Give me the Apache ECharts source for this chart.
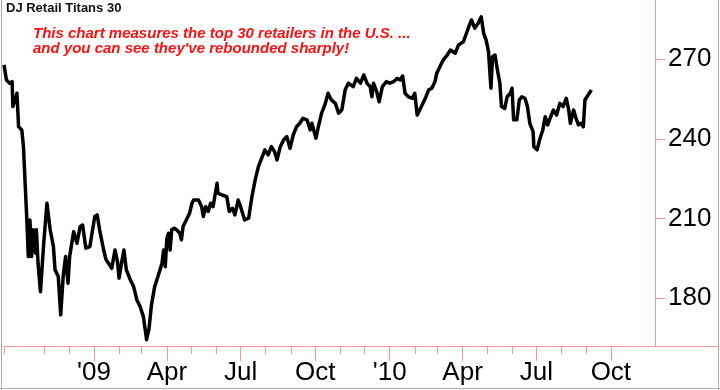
<!DOCTYPE html>
<html>
<head>
<meta charset="utf-8">
<script src="https://cdn.jsdelivr.net/npm/echarts@6/dist/echarts.min.js"></script>
<style>
html,body{margin:0;padding:0;background:#fff;}
#chart{width:720px;height:390px;}
</style>
</head>
<body>
<div id="chart"></div>
<script>
// ---- data ----
const startDate = '2008-09-12';
const endDate = '2011-02-09';
const yTicks = [180, 210, 240, 270];
const monthNames = ['Jan','Feb','Mar','Apr','May','Jun','Jul','Aug','Sep','Oct','Nov','Dec'];
const firstTickMonth = '2008-11-01';
const lastTickMonth = '2010-10-01';
const title = 'DJ Retail Titans 30';
const note = "This chart measures the top 30 retailers in the U.S. ...\nand you can see they've rebounded sharply!";

const dates = [
'2008-09-12','2008-09-15','2008-09-19','2008-09-22','2008-09-23','2008-09-28','2008-09-30','2008-10-04','2008-10-06','2008-10-10',
'2008-10-12','2008-10-14','2008-10-16','2008-10-18','2008-10-21','2008-10-22','2008-10-24','2008-10-27','2008-10-31','2008-11-04',
'2008-11-08','2008-11-12','2008-11-14','2008-11-18','2008-11-21','2008-11-24','2008-11-27','2008-11-30','2008-12-02','2008-12-07',
'2008-12-11','2008-12-15','2008-12-18','2008-12-22','2008-12-27','2009-01-02','2009-01-05','2009-01-08','2009-01-13','2009-01-16',
'2009-01-19','2009-01-23','2009-01-27','2009-01-30','2009-02-01','2009-02-04','2009-02-07','2009-02-10','2009-02-15','2009-02-19',
'2009-02-23','2009-02-27','2009-03-03','2009-03-07','2009-03-10','2009-03-13','2009-03-17','2009-03-21','2009-03-26','2009-03-28',
'2009-03-30','2009-04-01','2009-04-03','2009-04-05','2009-04-07','2009-04-10','2009-04-13','2009-04-17','2009-04-19','2009-04-21',
'2009-04-25','2009-04-29','2009-05-02','2009-05-04','2009-05-10','2009-05-14','2009-05-16','2009-05-19','2009-05-22','2009-05-25',
'2009-05-28','2009-06-02','2009-06-03','2009-06-08','2009-06-14','2009-06-17','2009-06-21','2009-06-24','2009-06-28','2009-07-01',
'2009-07-06','2009-07-11','2009-07-15','2009-07-19','2009-07-23','2009-07-31','2009-08-04','2009-08-08','2009-08-12','2009-08-15',
'2009-08-19','2009-08-23','2009-08-27','2009-08-31','2009-09-04','2009-09-08','2009-09-12','2009-09-16','2009-09-21','2009-09-25',
'2009-09-27','2009-10-02','2009-10-05','2009-10-09','2009-10-13','2009-10-17','2009-10-21','2009-10-26','2009-10-30','2009-11-03',
'2009-11-07','2009-11-11','2009-11-17','2009-11-21','2009-11-26','2009-11-30','2009-12-04','2009-12-08','2009-12-10','2009-12-12',
'2009-12-16','2009-12-19','2009-12-23','2009-12-28','2010-01-01','2010-01-06','2010-01-10','2010-01-14','2010-01-17','2010-01-20',
'2010-01-24','2010-01-29','2010-02-01','2010-02-04','2010-02-08','2010-02-14','2010-02-18','2010-02-22','2010-02-26','2010-02-28',
'2010-03-04','2010-03-08','2010-03-13','2010-03-17','2010-03-23','2010-03-27','2010-04-02','2010-04-08','2010-04-12','2010-04-16',
'2010-04-20','2010-04-24','2010-04-27','2010-04-30','2010-05-03','2010-05-06','2010-05-08','2010-05-11','2010-05-14','2010-05-17',
'2010-05-19','2010-05-23','2010-05-26','2010-05-30','2010-06-01','2010-06-03','2010-06-07','2010-06-10','2010-06-13','2010-06-17',
'2010-06-20','2010-06-23','2010-06-27','2010-06-28','2010-07-02','2010-07-05','2010-07-09','2010-07-12','2010-07-15','2010-07-18',
'2010-07-22','2010-07-26','2010-07-30','2010-08-03','2010-08-07','2010-08-10','2010-08-12','2010-08-16','2010-08-19','2010-08-22',
'2010-08-25','2010-08-28','2010-08-30','2010-09-03','2010-09-07'
];
const values = [
267.9,262.2,261.0,261.6,252.2,257.2,244.6,243.4,237.1,210.8,
195.7,209.5,195.7,205.8,197.0,205.8,193.2,182.5,200.7,215.8,
205.8,199.5,190.7,188.2,173.8,188.2,195.7,185.7,195.7,205.1,
200.7,207.0,207.6,198.9,199.5,210.8,211.4,205.8,198.2,194.5,
193.2,191.3,198.2,193.8,187.6,193.2,198.2,190.7,186.9,184.4,
179.4,176.9,173.1,164.4,168.6,177.5,184.4,188.2,193.2,198.2,
191.9,202.5,204.5,198.2,205.8,206.4,205.8,204.5,202.0,207.0,
209.5,212.0,215.8,217.0,217.0,214.5,210.8,214.5,212.7,215.8,
214.5,223.3,219.6,218.9,218.3,212.7,213.9,211.4,217.0,214.5,
209.5,210.2,218.3,224.6,229.6,235.9,234.0,237.1,235.2,232.1,
237.1,239.6,240.9,236.5,241.5,244.6,245.9,247.8,247.2,243.4,
245.9,240.3,244.6,249.7,252.8,257.2,254.7,253.4,249.7,251.0,
258.4,261.0,259.7,262.8,261.0,264.1,261.0,259.7,255.9,261.0,
257.8,254.0,259.7,261.6,261.0,261.6,262.8,262.2,263.7,257.2,
255.9,255.3,257.2,249.0,251.5,255.3,258.4,259.1,261.6,264.7,
267.2,269.7,271.6,273.5,272.3,275.4,276.6,281.7,284.8,281.7,
283.5,286.0,279.8,277.3,272.9,259.1,271.0,271.6,266.0,261.0,
252.2,251.5,255.9,257.2,259.1,247.2,247.2,254.7,255.9,255.3,
252.2,245.9,242.8,237.1,235.9,239.6,243.4,248.4,245.3,247.8,
250.9,249.0,253.4,252.2,255.3,250.9,245.9,250.9,247.8,245.3,
245.9,244.6,254.7,256.6,258.4
];

// ---- build daily category axis ----
function fmt(d){
  const m = d.getUTCMonth()+1, day = d.getUTCDate();
  return d.getUTCFullYear()+'-'+(m<10?'0':'')+m+'-'+(day<10?'0':'')+day;
}
const categories = [];
for (let t = Date.parse(startDate+'T00:00:00Z'); t <= Date.parse(endDate+'T00:00:00Z'); t += 86400000) {
  categories.push(fmt(new Date(t)));
}
function isMonthStart(v){ return v.slice(8) === '01' && v >= firstTickMonth && v <= lastTickMonth; }
function isQuarterStart(v){ return isMonthStart(v) && ['01','04','07','10'].indexOf(v.slice(5,7)) >= 0; }

const axisPink = '#ff9494';
const fontFam = '"Liberation Sans", Arial, sans-serif';

const chart = echarts.init(document.getElementById('chart'), null, {renderer:'canvas'});
chart.setOption({
  animation: false,
  backgroundColor: '#ffffff',
  grid: {left: 4, right: 3, top: 0, bottom: 44, containLabel: false},
  xAxis: [
    {
      type: 'category', data: categories, boundaryGap: false, position: 'bottom',
      axisLine: {show: true, lineStyle: {color: axisPink, width: 1}},
      axisTick: {show: true, length: 8, lineStyle: {color: axisPink},
        interval: function(i, v){ return i === 0 || isMonthStart(v); }},
      axisLabel: {show: false},
      splitLine: {show: false}
    },
    {
      type: 'category', data: categories, boundaryGap: false, position: 'bottom',
      axisLine: {show: false},
      axisTick: {show: true, length: 15, lineStyle: {color: axisPink},
        interval: function(i, v){ return isQuarterStart(v); }},
      axisLabel: {show: true, interval: function(i, v){ return isQuarterStart(v); },
        formatter: function(v){
          const mi = parseInt(v.slice(5,7),10) - 1;
          return mi === 0 ? "'" + v.slice(2,4) : monthNames[mi];
        },
        color: '#000', fontSize: 26, fontFamily: fontFam, margin: 14},
      splitLine: {show: false}
    }
  ],
  yAxis: {
    type: 'value', position: 'right', offset: -62,
    min: 162.04, max: 292.33,
    axisLine: {show: true, lineStyle: {color: axisPink, width: 1}},
    axisTick: {show: true, length: 10, lineStyle: {color: axisPink}, customValues: yTicks},
    axisLabel: {show: true, customValues: yTicks, color: '#000', fontSize: 26, fontFamily: fontFam, margin: 13},
    splitLine: {show: false}
  },
  series: [{
    type: 'line',
    xAxisIndex: 0,
    data: dates.map(function(d, i){ return [d, values[i]]; }),
    showSymbol: false,
    symbol: 'none',
    lineStyle: {color: '#000', width: 3.5, join: 'round'},
    z: 3
  }],
  graphic: [
    {type: 'text', left: 6, top: 2, style: {text: title, fill: '#111', font: 'bold 13px ' + fontFam}},
    {type: 'text', left: 33, top: 26, style: {text: note, fill: '#ff1010', font: 'italic bold 15px ' + fontFam, lineHeight: 15}},
    {type: 'line', shape: {x1: 1.5, y1: 0, x2: 1.5, y2: 390}, style: {stroke: '#aaaaaa', lineWidth: 1}},
    {type: 'line', shape: {x1: 718.5, y1: 0, x2: 718.5, y2: 390}, style: {stroke: '#aaaaaa', lineWidth: 1}},
    {type: 'line', shape: {x1: 0, y1: 388.5, x2: 720, y2: 388.5}, style: {stroke: '#aaaaaa', lineWidth: 1}}
  ]
});
</script>
</body>
</html>
